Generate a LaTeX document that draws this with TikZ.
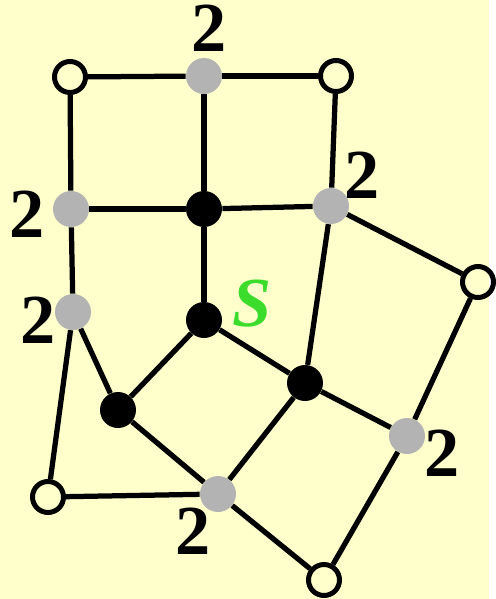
\documentclass[tikz,border=0pt]{standalone}
\usepackage{fontspec}
\setmainfont{Liberation Serif}
\definecolor{slidebg}{HTML}{FFFFCC}
\definecolor{vgray}{HTML}{B3B3B3}
\definecolor{sgreen}{HTML}{3CDC2C}

\begin{document}
\begin{tikzpicture}[
  x=0.02cm, y=-0.02cm,
  open/.style={draw, circle, line width=0.1cm, minimum size=0.62cm, inner sep=0pt},
  marked/.style={circle, fill=vgray, minimum size=0.72cm, inner sep=0pt},
  filled/.style={circle, fill=black, minimum size=0.72cm, inner sep=0pt},
  link/.style={line width=0.105cm},
  lbl/.style={font=\fontsize{40}{40}\selectfont\bfseries, inner sep=0pt}
]
  % Background
  \fill[slidebg] (0,0) rectangle (489,599);

  % Open vertices
  \foreach \n/\x/\y in {a/70/77, c/336/76, g/478/282, m/48/497, o/324/580} {
    \node[open] (\n) at (\x,\y) {};
  }

  % Grey vertices
  \foreach \n/\x/\y in {b/204/76, d/71/209, f/331/206, h/73/312, l/407/436, n/218/494} {
    \node[marked] (\n) at (\x,\y) {};
  }

  % Black vertices
  \foreach \n/\x/\y in {e/204/209, s/204/320, j/305/383, k/118/410} {
    \node[filled] (\n) at (\x,\y) {};
  }

  % Edges
  \draw[link] (a) -- (b);
  \draw[link] (b) -- (c);
  \draw[link] (a) -- (d);
  \draw[link] (b) -- (e);
  \draw[link] (c) -- (f);
  \draw[link] (d) -- (e);
  \draw[link] (e) -- (f);
  \draw[link] (f) -- (g);
  \draw[link] (d) -- (h);
  \draw[link] (e) -- (s);
  \draw[link] (s) -- (j);
  \draw[link] (s) -- (k);
  \draw[link] (h) -- (k);
  \draw[link] (h) -- (m);
  \draw[link] (m) -- (n);
  \draw[link] (k) -- (n);
  \draw[link] (n) -- (j);
  \draw[link] (f) -- (j);
  \draw[link] (j) -- (l);
  \draw[link] (g) -- (l);
  \draw[link] (l) -- (o);
  \draw[link] (n) -- (o);

  % Labels
  \node[lbl] (lb) at (209,28) {2};
  \node[lbl] (lf) at (362,175) {2};
  \node[lbl] (ld) at (27,214) {2};
  \node[lbl] (lh) at (38,320) {2};
  \node[lbl] (ll) at (442,453) {2};
  \node[lbl] (ln) at (193,531) {2};
  \node[lbl, font=\fontsize{40}{40}\selectfont\bfseries\itshape, sgreen] (ls) at (252,304) {S};
\end{tikzpicture}
\end{document}
